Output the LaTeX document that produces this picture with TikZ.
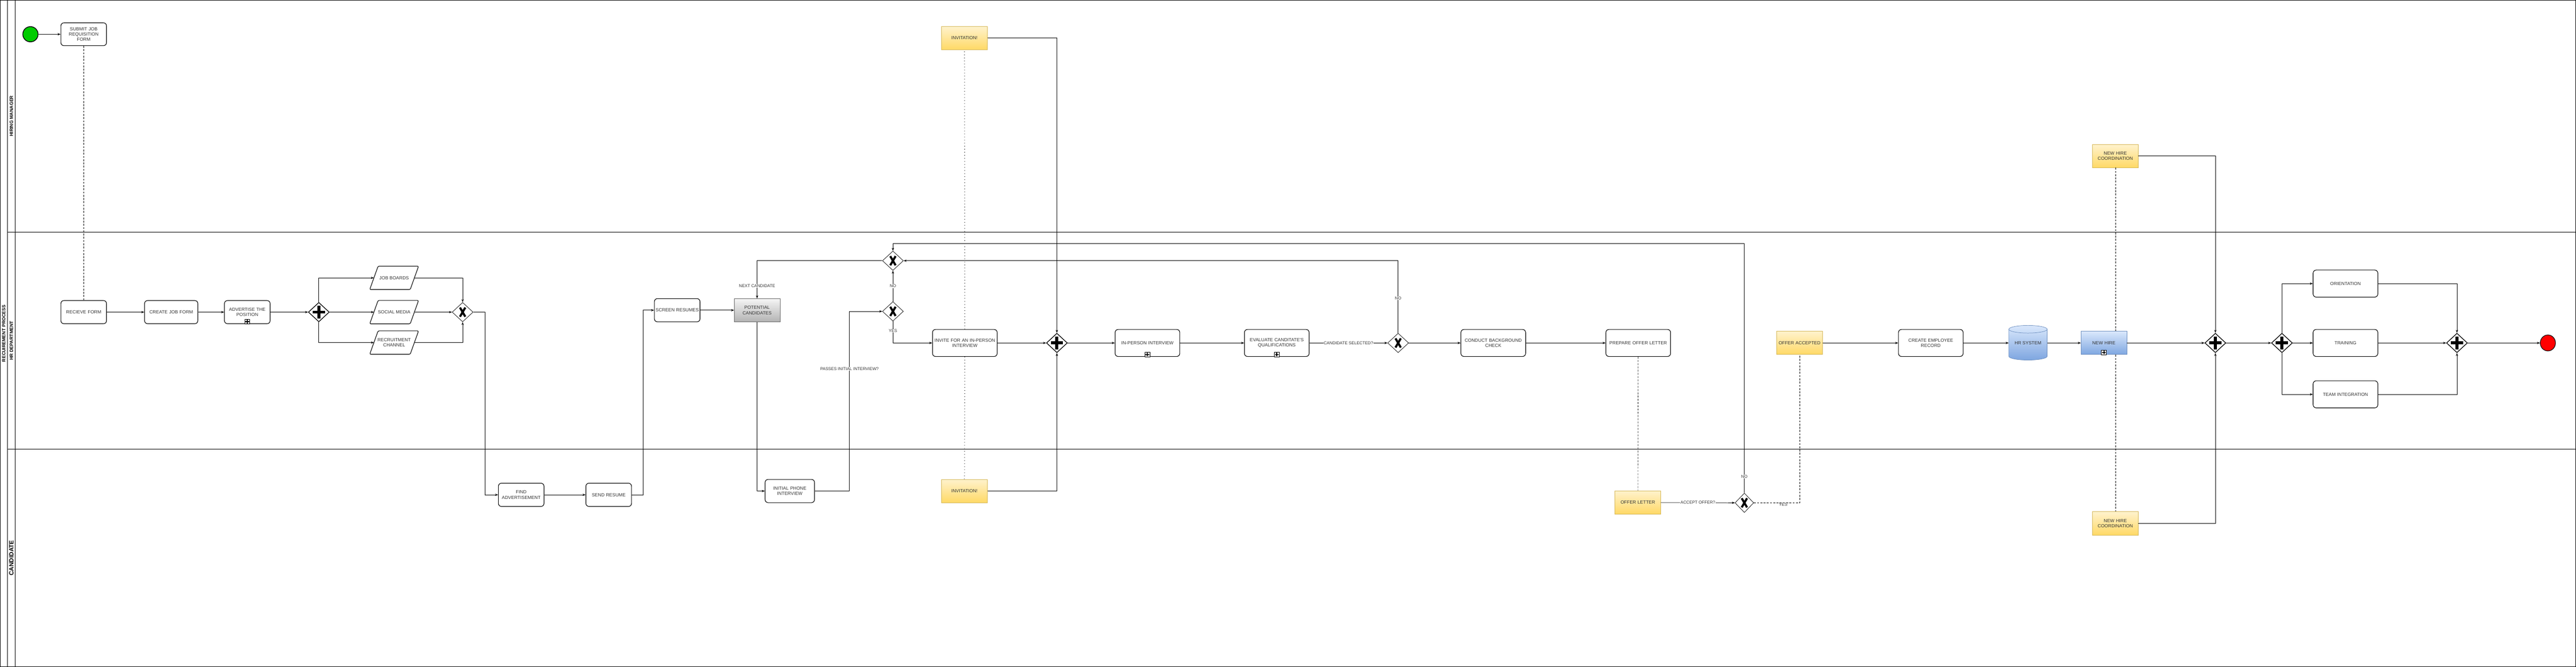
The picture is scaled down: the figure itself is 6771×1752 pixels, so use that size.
\documentclass[tikz,border=0pt]{standalone}
\usepackage{fontspec}
\setmainfont{Liberation Sans}
\usetikzlibrary{shapes.geometric,arrows.meta,calc}
\definecolor{txt}{HTML}{333333}
\definecolor{ylwb}{HTML}{D6B656}
\definecolor{ylwt}{HTML}{FFF2CC}
\definecolor{ylwd}{HTML}{FFD966}
\definecolor{blub}{HTML}{6C8EBF}
\definecolor{blut}{HTML}{DAE8FC}
\definecolor{blud}{HTML}{7EA6E0}
\definecolor{gryb}{HTML}{666666}
\definecolor{gryt}{HTML}{F5F5F5}
\definecolor{gryd}{HTML}{B3B3B3}
\definecolor{startg}{HTML}{00CC00}
\definecolor{endr}{HTML}{FF0000}
\begin{document}
\begin{tikzpicture}[x=1pt,y=-1pt,
  base/.style={align=center, text=txt, inner sep=2pt, font=\fontsize{12}{14}\selectfont},
  task/.style={base, draw=black, line width=1.5pt, rounded corners=8pt, fill=white},
  tsk/.style={task, minimum width=120pt, minimum height=61pt, text width=114pt},
  tlg/.style={task, minimum width=170pt, minimum height=71pt, text width=164pt},
  yel/.style={base, draw=ylwb, line width=1pt, top color=ylwt, bottom color=ylwd, minimum width=120pt, minimum height=61pt, text width=114pt},
  blu/.style={base, draw=blub, line width=1pt, top color=blut, bottom color=blud, minimum width=120pt, minimum height=61pt, text width=114pt},
  gbox/.style={base, draw=gryb, line width=0.8pt, top color=gryt, bottom color=gryd, minimum width=120pt, minimum height=61pt, text width=114pt},
  parabox/.style={base, minimum width=128pt, minimum height=61pt, inner sep=0pt},
  gwbase/.style={diamond, draw=black, fill=white, minimum width=55pt, minimum height=51pt, inner sep=0pt},
  pgw/.style={gwbase, line width=1.8pt,
    path picture={
      \fill[black] ($(path picture bounding box.center)+(-4pt,-17pt)$) rectangle ++(8pt,34pt);
      \fill[black] ($(path picture bounding box.center)+(-16pt,-4pt)$) rectangle ++(32pt,8pt);}},
  xgw/.style={gwbase, line width=1pt,
    path picture={
      \draw[black, line width=5.5pt] ($(path picture bounding box.center)+(-7pt,-12pt)$) -- ($(path picture bounding box.center)+(7pt,12pt)$);
      \draw[black, line width=5.5pt] ($(path picture bounding box.center)+(-7pt,12pt)$) -- ($(path picture bounding box.center)+(7pt,-12pt)$);}},
  submark/.style={draw=black, fill=white, line width=1pt, minimum width=13pt, minimum height=12pt, inner sep=0pt,
    path picture={
      \fill[black] ($(path picture bounding box.center)+(-5pt,-1.3pt)$) rectangle ++(10pt,2.6pt);
      \fill[black] ($(path picture bounding box.center)+(-1.3pt,-5pt)$) rectangle ++(2.6pt,10pt);}},
  flow/.style={draw=black, line width=1pt, -{Stealth[length=8pt,width=6pt]}},
  assocd/.style={draw=black, line width=0.8pt, dash pattern=on 5pt off 3.5pt},
  assocdot/.style={draw=black, line width=1.4pt, dash pattern=on 1.4pt off 6.6pt},
  elabel/.style={base, fill=white, font=\fontsize{11}{13}\selectfont, inner sep=1pt},
  lanelab/.style={text=black, font=\bfseries\fontsize{12}{14}\selectfont, rotate=90, inner sep=0pt},
  paraline/.style={draw=black, line width=1.5pt, rounded corners=3pt}
]
\useasboundingbox (0,0) rectangle (6771,1752);
\fill[white] (0,0) rectangle (6771,1752);

% pool and lanes
\draw[line width=1.5pt] (0.75,0.75) rectangle (6770.25,1751.25);
\draw[line width=1.5pt] (20,0) -- (20,1752);
\draw[line width=1.5pt] (40,0) -- (40,1752);
\draw[line width=1.5pt] (20,610) -- (6771,610);
\draw[line width=1.5pt] (20,1180) -- (6771,1180);
\node[lanelab] (poollab) at (10,876) {RECUIREMENT PROCESS};
\node[lanelab] (lane1lab) at (30,305) {HIRING MANAGER};
\node[lanelab] (lane2lab) at (30,895) {HR DEPARTMENT};
\node[lanelab, font=\bfseries\fontsize{16}{18}\selectfont] (lane3lab) at (30,1466) {CANDIDATE};

% hiring manager lane
\node[circle, draw=black, line width=2pt, fill=startg, minimum size=40pt, inner sep=0pt] (start) at (80,90) {};
\node[tsk, minimum height=60pt] (submit) at (220,90) {SUBMIT JOB\\REQUISITION\\FORM};
\node[yel, minimum height=60pt] (inv1) at (2535,100) {INVITATION!};
\node[yel, minimum height=60pt] (nhc1) at (5560,410) {NEW HIRE\\COORDINATION};

% HR lane
\node[tsk] (recv) at (220,820) {RECIEVE FORM};
\node[tsk, minimum width=140pt, text width=134pt] (cjf) at (450,820) {CREATE JOB FORM};
\node[tsk] (adv) at (650,820) {ADVERTISE THE\\POSITION};
\node[submark] (advm) at ([yshift=6pt]adv.south) {};
\node[pgw] (pg1) at (838,820) {};
\node[parabox] (jb) at (1036,730) {JOB BOARDS};
\node[parabox] (sm) at (1036,820) {SOCIAL MEDIA};
\node[parabox] (rc) at (1036,900) {RECRUITMENT\\CHANNEL};
\foreach \p in {jb,sm,rc}{
  \draw[paraline] (\p.south west) -- ($(\p.south east)+(-22pt,0pt)$) -- (\p.north east) -- ($(\p.north west)+(22pt,0pt)$) -- cycle;
}
\node[xgw] (xg1) at (1216,820) {};
\node[tsk] (screen) at (1780,815) {SCREEN RESUMES};
\node[gbox] (pot) at (1990,815) {POTENTIAL\\CANDIDATES};
\node[xgw] (xg2) at (2347,818) {};
\node[xgw] (xg3) at (2347,685) {};
\node[tlg] (invite) at (2536,901) {INVITE FOR AN IN-PERSON\\INTERVIEW};
\node[pgw] (pg2) at (2778,901) {};
\node[tlg] (ipi) at (3016,901) {IN-PERSON INTERVIEW};
\node[submark] (ipim) at ([yshift=6pt]ipi.south) {};
\node[tlg] (eval) at (3356,901) {EVALUATE CANDITATE'S\\QUALIFICATIONS};
\node[submark] (evalm) at ([yshift=6pt]eval.south) {};
\node[xgw] (xg4) at (3675,901) {};
\node[tlg] (bg) at (3925,901) {CONDUCT BACKGROUND\\CHECK};
\node[tlg] (prep) at (4306,901) {PREPARE OFFER LETTER};
\node[yel] (oa) at (4730,901) {OFFER ACCEPTED};
\node[tlg] (cer) at (5075,901) {CREATE EMPLOYEE\\RECORD};
\shade[top color=blut, bottom color=blud, draw=blub, line width=1pt]
  (5280,865) -- (5280,936) arc[start angle=180, end angle=360, x radius=50.5pt, y radius=10pt]
  -- (5381,865) arc[start angle=0, end angle=180, x radius=50.5pt, y radius=10pt] -- cycle;
\draw[blub, line width=1pt] (5280,865) arc[start angle=180, end angle=360, x radius=50.5pt, y radius=10pt];
\node[base, minimum width=101pt, minimum height=91pt, inner sep=0pt] (hrsys) at (5330.5,901) {HR SYSTEM};
\node[blu] (nh) at (5530,901) {NEW HIRE};
\node[submark] (nhm) at ([yshift=6pt]nh.south) {};
\node[pgw] (pg3) at (5823,901) {};
\node[pgw] (pg4) at (5998,901) {};
\node[tlg] (ori) at (6165,745) {ORIENTATION};
\node[tlg] (trn) at (6165,901) {TRAINING};
\node[tlg] (team) at (6165,1036) {TEAM INTEGRATION};
\node[pgw] (pg5) at (6458,901) {};
\node[ellipse, draw=black, line width=1.5pt, fill=endr, minimum width=40pt, minimum height=42pt, inner sep=0pt] (end) at (6697,901) {};

% candidate lane
\node[tsk] (find) at (1370,1300) {FIND\\ADVERTISEMENT};
\node[tsk] (send) at (1600,1300) {SEND RESUME};
\node[tsk, minimum width=130pt, text width=124pt] (init) at (2076,1290) {INITIAL PHONE\\INTERVIEW};
\node[yel] (inv2) at (2535,1290) {INVITATION!};
\node[yel] (ol) at (4305,1320) {OFFER LETTER};
\node[xgw, minimum width=49pt] (xg5) at (4585,1321) {};
\node[yel] (nhc2) at (5560,1375) {NEW HIRE\\COORDINATION};

% connectors
\draw[flow] (start) -- (submit);
\draw[assocd] (submit) -- (recv);
\draw[flow] (recv) -- (cjf);
\draw[flow] (cjf) -- (adv);
\draw[flow] (adv) -- (pg1);
\draw[flow] (pg1) -- ([xshift=11pt]sm.west);
\draw[flow] (pg1.north) |- ([xshift=11pt]jb.west);
\draw[flow] (pg1.south) |- ([xshift=11pt]rc.west);
\draw[flow] ([xshift=-11pt]jb.east) -| (xg1.north);
\draw[flow] ([xshift=-11pt]sm.east) -- (xg1);
\draw[flow] ([xshift=-11pt]rc.east) -| (xg1.south);
\draw[flow] (xg1.east) -- ++(31,0) |- (find.west);
\draw[flow] (find) -- (send);
\draw[flow] (send.east) -- ++(30,0) |- (screen.west);
\draw[flow] (screen) -- (pot);
\draw[flow] (pot.south) |- (init.west);
\draw[flow] (init.east) -- ++(91,0) coordinate (c1) -- node[elabel, pos=0.68] (lpass) {PASSES INITIAL INTERVIEW?} (c1 |- xg2.west) -- (xg2.west);
\draw[flow] (xg2.north) -- node[elabel] (lno1) {NO} (xg3.south);
\draw[flow] (xg2.south) |- node[elabel, pos=0.22] (lyes1) {YES} (invite.west);
\draw[flow] (xg3.west) -| node[elabel, pos=0.835] (lnext) {NEXT CANDIDATE} (pot.north);
\draw[flow] (invite) -- (pg2);
\draw[assocdot] (invite.north) -- (inv1.south);
\draw[assocdot] (invite.south) -- (inv2.north);
\draw[flow] (inv1.east) -| (pg2.north);
\draw[flow] (inv2.east) -| (pg2.south);
\draw[flow] (pg2) -- (ipi);
\draw[flow] (ipi) -- (eval);
\draw[flow] (eval) -- node[elabel] (lsel) {CANDIDATE SELECTED?} (xg4);
\draw[flow] (xg4.north) -- node[elabel, pos=0.48] (lno2) {NO} (xg4.north |- xg3.east) -- (xg3.east);
\draw[flow] (xg4) -- (bg);
\draw[flow] (bg) -- (prep);
\draw[assocd] (prep) -- (ol);
\draw[flow] (ol) -- node[elabel] (lacc) {ACCEPT OFFER?} (xg5);
\draw[flow] (xg5.north) -- node[elabel, pos=0.066] (lno3) {NO} (xg5.north |- 0,640) -- (xg3.north |- 0,640) -- (xg3.north);
\draw[assocd] (xg5.east) -| (oa.south);
\node[elabel, fill=none] (lyes2) at (4687,1326) {YES};
\draw[flow] (oa) -- (cer);
\draw[flow] (cer) -- (hrsys);
\draw[flow] (hrsys) -- (nh);
\draw[flow] (nh) -- (pg3);
\draw[assocd] (nhc1.south) -- (nhc1.south |- nh.north);
\draw[assocd] (nhc2.north |- nh.south) -- (nhc2.north);
\draw[flow] (nhc1.east) -| (pg3.north);
\draw[flow] (nhc2.east) -| (pg3.south);
\draw[flow] (pg3) -- (pg4);
\draw[flow] (pg4) -- (trn);
\draw[flow] (pg4.north) |- (ori.west);
\draw[flow] (pg4.south) |- (team.west);
\draw[flow] (ori.east) -| (pg5.north);
\draw[flow] (trn) -- (pg5);
\draw[flow] (team.east) -| (pg5.south);
\draw[flow] (pg5) -- (end);
\end{tikzpicture}
\end{document}
